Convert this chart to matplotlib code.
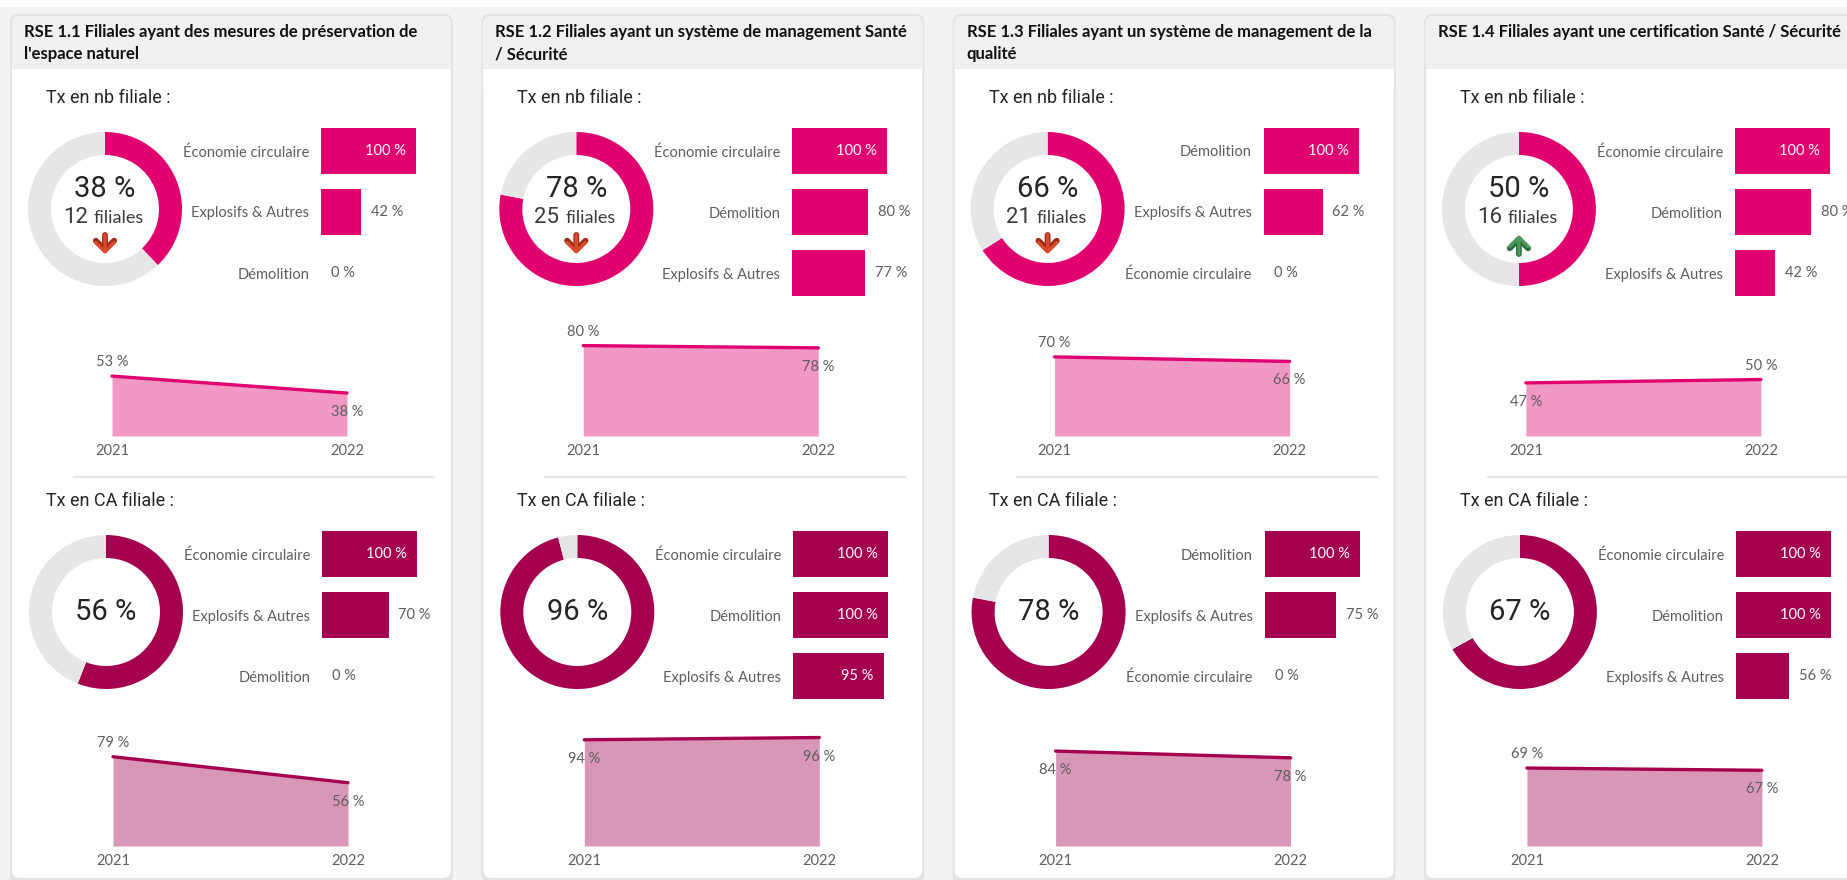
import matplotlib.pyplot as plt
from matplotlib.patches import FancyBboxPatch, Rectangle

W, H = 1847, 880

titres = [
    "RSE 1.1 Filiales ayant des mesures de préservation de\nl'espace naturel",
    "RSE 1.2 Filiales ayant un système de management Santé\n/ Sécurité",
    "RSE 1.3 Filiales ayant un système de management de la\nqualité",
    "RSE 1.4 Filiales ayant une certification Santé / Sécurité",
]
annees = ["2021", "2022"]

# taux en nombre de filiales
tx_nb = [38, 78, 66, 50]
nb_filiales = [12, 25, 21, 16]
tendance = ["baisse", "baisse", "baisse", "hausse"]
cat_nb = [
    ["Économie circulaire", "Explosifs & Autres", "Démolition"],
    ["Économie circulaire", "Démolition", "Explosifs & Autres"],
    ["Démolition", "Explosifs & Autres", "Économie circulaire"],
    ["Économie circulaire", "Démolition", "Explosifs & Autres"],
]
val_nb = [[100, 42, 0], [100, 80, 77], [100, 62, 0], [100, 80, 42]]
hist_nb = [[53, 38], [80, 78], [70, 66], [47, 50]]

# taux en chiffre d'affaires
tx_ca = [56, 96, 78, 67]
cat_ca = [
    ["Économie circulaire", "Explosifs & Autres", "Démolition"],
    ["Économie circulaire", "Démolition", "Explosifs & Autres"],
    ["Démolition", "Explosifs & Autres", "Économie circulaire"],
    ["Économie circulaire", "Démolition", "Explosifs & Autres"],
]
val_ca = [[100, 70, 0], [100, 100, 95], [100, 75, 0], [100, 100, 56]]
hist_ca = [[79, 56], [94, 96], [84, 78], [69, 67]]

# etiquettes au-dessus ou en dessous des points
pos_nb = [["haut", "bas"], ["haut", "bas"], ["haut", "bas"], ["bas", "haut"]]
pos_ca = [["haut", "bas"], ["bas", "bas"], ["bas", "bas"], ["haut", "bas"]]

ROSE = "#e0006f"
ROSE_CLAIR = "#f198c4"
BORDEAUX = "#a4004f"
BORDEAUX_CLAIR = "#d997b7"
GRIS_DONUT = "#e6e6e6"
GRIS_TXT = "#605e5c"
DIN = "Roboto"
SEGOE = "Lato"
TAILLE = 10.5

fig = plt.figure(figsize=(W / 100, H / 100), dpi=100)
fig.patch.set_facecolor("#f3f3f3")

fond = fig.add_axes([0, 0, 1, 1])
fond.set_xlim(0, W)
fond.set_ylim(H, 0)
fond.axis("off")
fond.add_patch(Rectangle((0, 0), W, 7, color="white", lw=0))


def axe(x, y, w, h):
    a = fig.add_axes([x / W, 1 - (y + h) / H, w / W, h / H])
    a.patch.set_visible(False)
    for s in a.spines.values():
        s.set_visible(False)
    return a


def donut(cx, cy, v, col):
    a = axe(cx - 77, cy - 77, 154, 154)
    a.pie([v, 100 - v], colors=[col, GRIS_DONUT], startangle=90, counterclock=False,
          wedgeprops=dict(width=23 / 77, linewidth=0))
    a.set_xlim(-1, 1)
    a.set_ylim(-1, 1)


def barres(x, yc, cats, vals, col):
    a = axe(x, yc - 30.5, 95, 183)
    a.barh(range(3), vals, height=46 / 61, color=col)
    a.set_xlim(0, 100)
    a.set_ylim(2.5, -0.5)
    a.set_xticks([])
    a.set_yticks(range(3), cats)
    a.tick_params(axis="y", length=0, pad=8.6, labelsize=TAILLE, labelcolor=GRIS_TXT)
    for t in a.get_yticklabels():
        t.set_family(SEGOE)
    for i, v in enumerate(vals):
        if v >= 90:
            a.annotate(f"{v} %", (v, i), xytext=(-7.2, 0), textcoords="offset points",
                       ha="right", va="center", color="white", fontsize=TAILLE, family=SEGOE)
        else:
            a.annotate(f"{v} %", (v, i), xytext=(7.2, 0), textcoords="offset points",
                       ha="left", va="center", color=GRIS_TXT, fontsize=TAILLE, family=SEGOE)


def aire(x, base, vals, pos, col, clair):
    a = axe(x, base - 113, 235, 113)
    xs = [0, 1]
    a.fill_between(xs, vals, color=clair, lw=0)
    a.plot(xs, vals, color=col, lw=2.4, solid_capstyle="round", clip_on=False)
    a.set_xlim(0, 1)
    a.set_ylim(0, 100)
    a.set_yticks([])
    a.set_xticks(xs, annees)
    a.tick_params(axis="x", length=0, pad=6, labelsize=TAILLE, labelcolor=GRIS_TXT)
    for t in a.get_xticklabels():
        t.set_family(SEGOE)
    for i, v in enumerate(vals):
        dy = 10 if pos[i] == "haut" else -13.7
        a.annotate(f"{v} %", (i, v), xytext=(0, dy), textcoords="offset points",
                   ha="center", va="center", color=GRIS_TXT, fontsize=TAILLE, family=SEGOE)


def fleche(x, hausse):
    # fleche de tendance sous le nombre de filiales
    col, bord = ("#4a9a5c", "#2f6b3d") if hausse else ("#dc4a2c", "#9e2a16")
    debut, fin = (254, 235) if hausse else (235, 254)
    for lw, c in [(4.2, bord), (2.4, col)]:
        fond.annotate("", xy=(x, fin), xytext=(x, debut),
                      arrowprops=dict(arrowstyle="->,head_width=0.33,head_length=0.33",
                                      lw=lw, color=c, mutation_scale=20, shrinkA=0, shrinkB=0))


for k in range(4):
    px = 12 + k * 471.3

    # cadre du visuel avec son ombre
    fond.add_patch(FancyBboxPatch((px - 2, 14), 443, 870, boxstyle="round,pad=0,rounding_size=9",
                                  fc="#e3e3e3", lw=0))
    fond.add_patch(FancyBboxPatch((px, 16), 439, 862, boxstyle="round,pad=0,rounding_size=8",
                                  fc="white", lw=0))
    fond.add_patch(FancyBboxPatch((px, 16), 439, 60, boxstyle="round,pad=0,rounding_size=8",
                                  fc="#f0f0f0", lw=0))
    fond.add_patch(Rectangle((px, 69), 439, 20, fc="white", lw=0))
    for j, ligne in enumerate(titres[k].split("\n")):
        fond.text(px + 12, 37 + 22 * j, ligne, fontsize=12, fontweight="bold", family=SEGOE,
                  color="#111111", va="baseline", clip_on=False)

    # taux en nb filiale
    fond.text(px + 34, 103, "Tx en nb filiale :", fontsize=13, family=DIN, color="#252423", va="baseline")
    cx = px + 93
    donut(cx, 209, tx_nb[k], ROSE)
    fond.text(cx, 197, f"{tx_nb[k]} %", fontsize=21, family=DIN, color="#252423", ha="center", va="baseline")
    fond.text(cx - 17, 223, str(nb_filiales[k]), fontsize=16, family=DIN, color="#3b3a39", ha="right", va="baseline")
    fond.text(cx - 11, 223, "filiales", fontsize=13, family=SEGOE, color="#3b3a39", ha="left", va="baseline")
    fleche(cx, tendance[k] == "hausse")
    barres(px + 309, 151, cat_nb[k], val_nb[k], ROSE)
    aire(px + 100, 436, hist_nb[k], pos_nb[k], ROSE, ROSE_CLAIR)

    fond.plot([px + 62, px + 422], [477, 477], color="#e6e6e6", lw=1.5)

    # taux en CA filiale
    fond.text(px + 34, 506, "Tx en CA filiale :", fontsize=13, family=DIN, color="#252423", va="baseline")
    donut(cx + 1, 612, tx_ca[k], BORDEAUX)
    fond.text(cx + 1, 620, f"{tx_ca[k]} %", fontsize=21, family=DIN, color="#252423", ha="center", va="baseline")
    barres(px + 310, 554, cat_ca[k], val_ca[k], BORDEAUX)
    aire(px + 101, 846, hist_ca[k], pos_ca[k], BORDEAUX, BORDEAUX_CLAIR)

fig.savefig("out.png", dpi=100, facecolor=fig.get_facecolor())
